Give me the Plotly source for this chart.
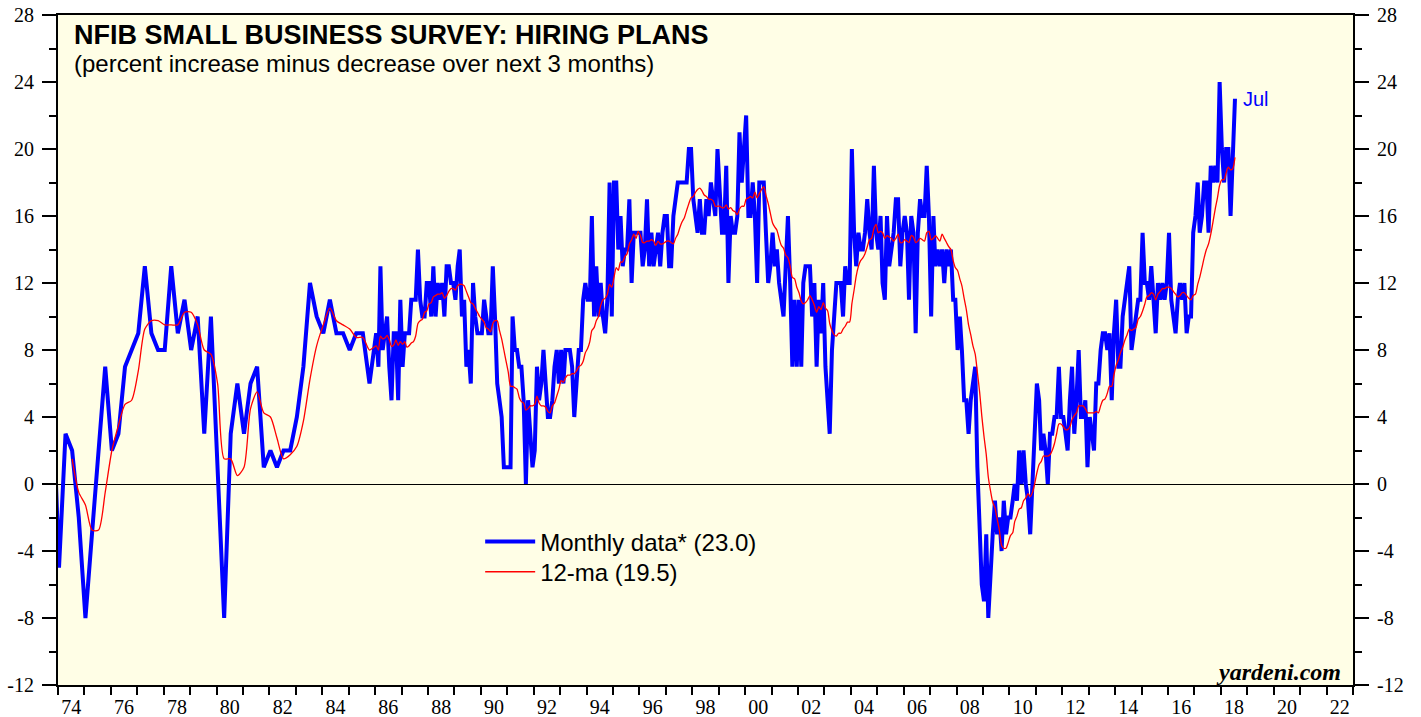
import pandas as pd
import numpy as np
import plotly.graph_objects as go

# ---- Data ----
# Quarterly survey readings (Jan/Apr/Jul/Oct), Oct 1973 .. Oct 1985
quarterly_start = "1973-10-01"
quarterly_values = [
    6,
    -5, 3, 2, -2,      # 1974
    -8, -3, 2, 7,      # 1975
    2, 3, 7, 8,        # 1976
    9, 13, 9, 8,       # 1977
    8, 13, 9, 11,      # 1978
    8, 10, 3, 10,      # 1979
    1, -8, 3, 6,       # 1980
    3, 6, 7, 1,        # 1981
    2, 1, 2, 2,        # 1982
    4, 7, 12, 10,      # 1983
    9, 11, 9, 9,       # 1984
    8, 9, 9, 6,        # 1985
]

# Monthly readings from Jan 1986
monthly_start = "1986-01-01"
m1986 = [9, 7, 13, 8, 9, 10, 7, 5, 9, 9, 5, 11]
m1987 = [7, 9, 9, 9, 11, 11, 11, 14, 11, 10, 10, 12]
m1988 = [12, 10, 13, 10, 12, 11, 12, 10, 13, 13, 12, 12]
m1989 = [11, 13, 14, 10, 11, 7, 8, 6, 12, 10, 9, 9]
m1990 = [9, 11, 10, 9, 9, 13, 10, 6, 5, 4, 1, 1]
m1991 = [1, 1, 10, 8, 8, 7, 7, 5, 0, 5, 3, 1]
m1992 = [2, 7, 5, 6, 8, 6, 4, 4, 5, 7, 8, 6]
m1993 = [8, 6, 8, 8, 8, 7, 4, 6, 8, 8, 11, 12]
m1994 = [11, 11, 16, 10, 13, 10, 12, 10, 9, 11, 18, 10]
m1995 = [18, 18, 14, 16, 13, 14, 14, 17, 12, 15, 15, 15]
m1996 = [15, 13, 14, 17, 13, 15, 13, 14, 15, 13, 15, 16]
m1997 = [16, 13, 13, 16, 17, 18, 18, 18, 18, 18, 20, 20]
m1998 = [17, 16, 15, 17, 15, 15, 17, 16, 18, 17, 16, 20]
m1999 = [17, 15, 15, 19, 12, 16, 15, 15, 16, 21, 18, 20]
m2000 = [22, 16, 16, 18, 16, 12, 18, 18, 18, 15, 12, 13]
m2001 = [15, 13, 14, 12, 11, 10, 13, 16, 12, 7, 11, 7]
m2002 = [11, 7, 12, 13, 13, 13, 10, 12, 7, 11, 9, 12]
m2003 = [7, 5, 3, 8, 10, 12, 12, 12, 10, 13, 12, 12]
m2004 = [20, 15, 13, 15, 14, 14, 15, 17, 15, 14, 19, 15]
m2005 = [14, 16, 12, 11, 16, 13, 14, 15, 17, 17, 13, 15]
m2006 = [16, 15, 11, 16, 15, 9, 15, 17, 16, 16, 19, 16]
m2007 = [10, 16, 13, 14, 13, 14, 12, 14, 13, 14, 11, 11]
m2008 = [8, 10, 8, 5, 5, 3, 5, 6, 7, 1, -3, -6]
m2009 = [-7, -3, -8, -5, -3, -1, -3, -2, -4, -1, -3, -2]
m2010 = [-2, -1, 0, -1, 2, 0, 2, 0, -1, -3, 0, 4]
m2011 = [6, 5, 2, 3, 2, 0, 3, 3, 4, 4, 7, 4]
m2012 = [4, 3, 2, 5, 7, 3, 5, 8, 4, 4, 5, 1]
m2013 = [4, 3, 2, 6, 6, 8, 9, 9, 8, 9, 5, 9]
m2014 = [11, 7, 7, 10, 11, 12, 13, 8, 9, 10, 11, 11]
m2015 = [15, 12, 12, 11, 13, 11, 9, 12, 11, 12, 11, 12]
m2016 = [15, 11, 10, 9, 11, 12, 11, 12, 9, 10, 10, 15]
m2017 = [16, 18, 15, 16, 18, 18, 15, 19, 18, 19, 18, 24]
m2018 = [20, 18, 20, 20, 16, 19, 23]

monthly_values = (m1986 + m1987 + m1988 + m1989 + m1990 + m1991 + m1992 + m1993
                  + m1994 + m1995 + m1996 + m1997 + m1998 + m1999 + m2000 + m2001
                  + m2002 + m2003 + m2004 + m2005 + m2006 + m2007 + m2008 + m2009
                  + m2010 + m2011 + m2012 + m2013 + m2014 + m2015 + m2016 + m2017
                  + m2018)

x_tick_years = list(range(1974, 2023, 2))
x_tick_labels = [f"{y % 100:02d}" for y in x_tick_years]
y_tick_vals = list(range(-12, 29, 4))
y_tick_labels = [str(v) for v in y_tick_vals]

legend_monthly = "Monthly data* (23.0)"
legend_ma = "12-ma (19.5)"
last_month_label = "Jul"

# ---- Build series ----
q_dates = pd.date_range(quarterly_start, periods=len(quarterly_values), freq="QS-JAN") + pd.Timedelta(days=14)
m_dates = pd.date_range(monthly_start, periods=len(monthly_values), freq="MS") + pd.Timedelta(days=14)
series = pd.Series(quarterly_values + monthly_values, index=q_dates.append(m_dates), dtype=float)

ma = series.rolling("365D").mean()
ma[ma.index < pd.Timestamp("1974-07-01")] = np.nan


def dec_year(idx):
    return idx.year + (idx.dayofyear - 1) / np.where(idx.is_leap_year, 366.0, 365.0)


xs = dec_year(series.index)

fig = go.Figure()
fig.add_trace(go.Scatter(
    x=xs, y=series.values, mode="lines", name=legend_monthly, legend="legend",
    line=dict(color="#0000FF", width=4), hoverinfo="skip",
))
fig.add_trace(go.Scatter(
    x=xs, y=ma.values, mode="lines", name=legend_ma, yaxis="y2", legend="legend2",
    line=dict(color="#FF0000", width=1.3, shape="spline", smoothing=0.7), hoverinfo="skip",
))

tick_font = dict(family="Liberation Serif", size=20, color="black")
yaxis_common = dict(
    range=[-12, 28], tickmode="array", tickvals=y_tick_vals, ticktext=y_tick_labels,
    ticks="outside", ticklen=14, tickwidth=2, tickcolor="black",
    minor=dict(dtick=2, tick0=0, ticks="outside", ticklen=7, tickwidth=2, tickcolor="black"),
    showline=True, linecolor="black", linewidth=2, showgrid=False,
    tickfont=tick_font, ticklabelstandoff=4, automargin=False,
)

legend_common = dict(
    xanchor="left", yanchor="top", bgcolor="rgba(0,0,0,0)", borderwidth=0,
    font=dict(family="Liberation Sans", size=24, color="black"), itemwidth=50,
)

fig.update_layout(
    width=1421, height=717,
    margin=dict(l=58, r=68, t=15, b=32, autoexpand=False),
    paper_bgcolor="white", plot_bgcolor="#FFFEE6",
    showlegend=True,
    legend=dict(x=0.326, y=0.247, **legend_common),
    legend2=dict(x=0.326, y=0.202, **legend_common),
    xaxis=dict(
        range=[1974, 2023], tickmode="array",
        tickvals=[y + 0.5 for y in x_tick_years], ticktext=x_tick_labels,
        ticks="outside", ticklen=3, tickcolor="rgba(0,0,0,0)",
        minor=dict(tick0=1974, dtick=1, ticks="outside", ticklen=8, tickwidth=2, tickcolor="black"),
        showline=True, linecolor="black", linewidth=2, mirror=True,
        showgrid=False, zeroline=False, tickfont=tick_font, automargin=False,
    ),
    yaxis=dict(**yaxis_common, side="left", zeroline=True, zerolinecolor="black", zerolinewidth=1),
    yaxis2=dict(**yaxis_common, side="right", overlaying="y", zeroline=False),
    annotations=[
        dict(text="<b>NFIB SMALL BUSINESS SURVEY: HIRING PLANS</b>", xref="paper", yref="paper",
             x=0.0108, y=0.970, xanchor="left", yanchor="middle", showarrow=False,
             font=dict(family="Liberation Sans", size=27, color="black")),
        dict(text="(percent increase minus decrease over next 3 months)", xref="paper", yref="paper",
             x=0.0108, y=0.928, xanchor="left", yanchor="middle", showarrow=False,
             font=dict(family="Liberation Sans", size=24, color="black")),
        dict(text="<b><i>yardeni.com</i></b>", xref="paper", yref="paper",
             x=0.9925, y=0.019, xanchor="right", yanchor="middle", showarrow=False,
             font=dict(family="Liberation Serif", size=24, color="black")),
        dict(text=last_month_label, x=xs[-1], y=float(series.values[-1]), xref="x", yref="y",
             xanchor="left", yanchor="middle", xshift=6, showarrow=False,
             font=dict(family="Liberation Sans", size=20, color="#0000FF")),
    ],
)

fig.write_html(
    "out.html",
    config={"displayModeBar": False},
    post_script="document.body.style.margin='0px';document.body.style.overflow='hidden';",
)
